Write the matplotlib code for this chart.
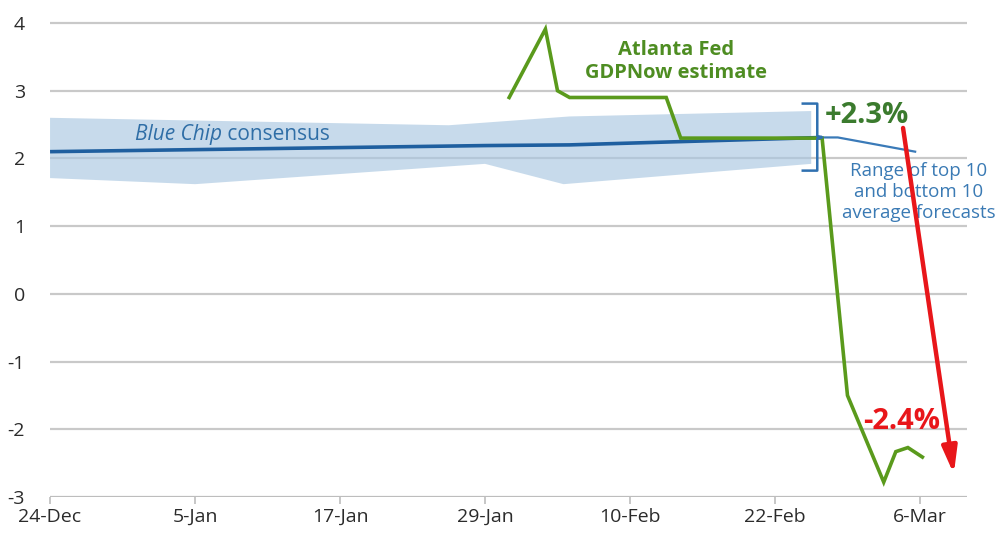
# Import packages.
import matplotlib
matplotlib.use('Agg')
import matplotlib.pyplot as plt

plt.rcParams['font.family'] = ['Open Sans', 'DejaVu Sans']
plt.rcParams['axes.unicode_minus'] = False

# Days counted from 24-Dec.
tick_days = [0, 12, 24, 36, 48, 60, 72]
tick_labels = ['24-Dec', '5-Jan', '17-Jan', '29-Jan', '10-Feb', '22-Feb', '6-Mar']
y_ticks = [-3, -2, -1, 0, 1, 2, 3, 4]

# Blue Chip consensus.
bc_days = [0, 36, 43, 63.9]
bc_vals = [2.1, 2.19, 2.2, 2.31]
bc_ext_days = [63.9, 65.2, 71.6]
bc_ext_vals = [2.31, 2.31, 2.1]

# Range of top 10 / bottom 10 averages.
band_top_days = [0, 33, 43, 63]
band_top_vals = [2.6, 2.49, 2.62, 2.7]
band_bot_days = [0, 12, 36, 42.5, 63]
band_bot_vals = [1.71, 1.62, 1.92, 1.62, 1.92]

# Atlanta Fed GDPNow.
gdp_days = [38, 41, 42, 43, 51, 52.2, 63.9, 66, 69, 70, 71, 72.2]
gdp_vals = [2.9, 3.91, 3.0, 2.9, 2.9, 2.3, 2.3, -1.5, -2.78, -2.33, -2.27, -2.41]

fig = plt.figure(figsize=(9.97, 5.33), dpi=100)
ax = fig.add_axes([0.0502, 0.0675, 0.9198, 0.93])

# Gridlines.
for v in y_ticks[1:]:
    ax.axhline(v, color='#c9c9c9', lw=1.6, zorder=1)
ax.axhline(-3, color='#bdbdbd', lw=1.6, zorder=1)

# Band built from top and bottom edges.
band_x = band_top_days + band_bot_days[::-1]
band_y = band_top_vals + band_bot_vals[::-1]
ax.fill(band_x, band_y, color='#a9c7e1', alpha=0.65, lw=0, zorder=2)

ax.plot(bc_days, bc_vals, color='#1f5f9f', lw=2.6, zorder=3, solid_capstyle='butt')
ax.plot(bc_ext_days, bc_ext_vals, color='#3a7ab8', lw=1.6, zorder=3)
ax.plot(gdp_days, gdp_vals, color='#5a9a1c', lw=2.6, zorder=4, solid_joinstyle='miter')

# Bracket.
ax.plot([62.3, 63.5, 63.5, 63.9, 63.5, 63.5, 62.3],
        [2.81, 2.81, 2.33, 2.31, 2.29, 1.82, 1.82],
        color='#2f70b0', lw=1.8, zorder=5)

# Red arrow.
ax.annotate('', xy=(74.8, -2.66), xytext=(70.6, 2.45),
            arrowprops=dict(arrowstyle='-|>,head_length=1.6,head_width=0.45',
                            color='#e8161a', lw=3.2, shrinkA=0, shrinkB=0),
            zorder=6)

# Labels.
ax.text(51.8, 3.43, 'Atlanta Fed\nGDPNow estimate', color='#4e8d22', fontsize=14.5,
        fontweight='bold', ha='center', va='center', linespacing=1.15)
ax.text(64.1, 2.63, '+2.3%', color='#3b7b2e', fontsize=21, fontweight='bold',
        ha='left', va='center')
ax.text(67.3, -1.89, '-2.4%', color='#e8161a', fontsize=21, fontweight='bold',
        ha='left', va='center')
ax.text(71.9, 1.5, 'Range of top 10\nand bottom 10\naverage forecasts', color='#3a7ab4',
        fontsize=13.5, ha='center', va='center', linespacing=1.2)
t = ax.text(7.0, 2.35, 'Blue Chip', color='#2f6ea6', fontsize=15, style='italic',
            ha='left', va='center')
ax.annotate(' consensus', xy=(1, 0.5), xycoords=t, color='#2f6ea6', fontsize=15,
            ha='left', va='center')

ax.set_xlim(0, 75.9)
ax.set_ylim(-3, 4.32)
ax.set_xticks(tick_days)
ax.set_xticklabels(tick_labels)
ax.set_yticks(y_ticks)
ax.tick_params(axis='x', length=5, width=1.2, color='#bdbdbd', labelsize=14,
               labelcolor='#2b2b2b', pad=3)
ax.tick_params(axis='y', length=0, labelsize=14, labelcolor='#2b2b2b', pad=18)
for s in ax.spines.values():
    s.set_visible(False)

fig.savefig('out.png', dpi=100, facecolor='white')
